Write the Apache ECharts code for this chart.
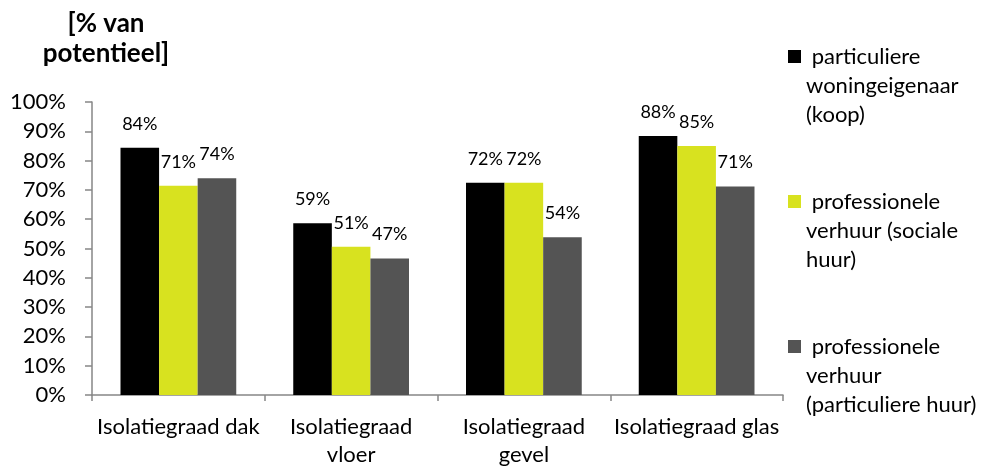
<!DOCTYPE html>
<html>
<head>
<meta charset="utf-8">
<script src="https://cdn.jsdelivr.net/npm/echarts@6/dist/echarts.min.js"></script>
<style>html,body{margin:0;padding:0;background:#fff}#c{width:981px;height:469px}</style>
</head>
<body>
<div id="c"></div>
<script>
var categories = ['Isolatiegraad dak', 'Isolatiegraad\nvloer', 'Isolatiegraad\ngevel', 'Isolatiegraad glas'];
var seriesNames = [' particuliere\nwoningeigenaar\n(koop)', ' professionele\nverhuur (sociale\nhuur)', ' professionele\nverhuur\n(particuliere huur)'];
var koop = [84.4, 58.6, 72.4, 88.4];
var sociaal = [71.4, 50.6, 72.4, 85.0];
var particulierHuur = [74.0, 46.6, 53.8, 71.2];
var yTicks = [0, 10, 20, 30, 40, 50, 60, 70, 80, 90, 100];
var titleText = '[% van\npotentieel]';
var colors = ['#000000', '#d8e21f', '#545454'];

var FONT = 'Lato';
var chart = echarts.init(document.getElementById('c'));
function bar(name, data, color) {
  return {
    name: name, type: 'bar', data: data, barGap: '0%', barCategoryGap: '33%',
    itemStyle: { color: color },
    label: { show: true, position: 'top', distance: 15, color: '#000', fontFamily: FONT, fontSize: 18,
      formatter: function (p) { return Math.round(p.value) + '%'; } }
  };
}
chart.setOption({
  animation: false,
  backgroundColor: '#fff',
  title: { text: titleText, left: 101, top: 4, textAlign: 'center',
    textStyle: { fontFamily: FONT, fontWeight: 'bold', fontSize: 26, lineHeight: 30, color: '#000' } },
  legend: {
    orient: 'vertical', left: 783, top: -21, itemWidth: 13, itemHeight: 13, itemGap: 0,
    icon: 'rect', selectedMode: false,
    formatter: function (name) { return '\n\n' + name; },
    textStyle: { fontFamily: FONT, fontSize: 22, color: '#000', lineHeight: 29 },
    data: seriesNames
  },
  grid: { left: 92, right: 198, top: 102, bottom: 74 },
  xAxis: {
    type: 'category', data: categories,
    axisLine: { lineStyle: { color: '#868686', width: 1.5 } },
    axisTick: { show: true, length: 6, lineStyle: { color: '#868686', width: 1.5 } },
    axisLabel: { color: '#000', fontFamily: FONT, fontSize: 22, lineHeight: 28, margin: 18, interval: 0 }
  },
  yAxis: {
    type: 'value', min: yTicks[0], max: yTicks[yTicks.length - 1], interval: yTicks[1] - yTicks[0],
    splitLine: { show: false },
    axisLine: { show: true, lineStyle: { color: '#868686', width: 1.5 } },
    axisTick: { show: true, length: 7, lineStyle: { color: '#868686', width: 1.5 } },
    axisLabel: { color: '#000', fontFamily: FONT, fontSize: 22, margin: 26, formatter: '{value}%' }
  },
  series: [bar(seriesNames[0], koop, colors[0]), bar(seriesNames[1], sociaal, colors[1]), bar(seriesNames[2], particulierHuur, colors[2])]
});
</script>
</body>
</html>
